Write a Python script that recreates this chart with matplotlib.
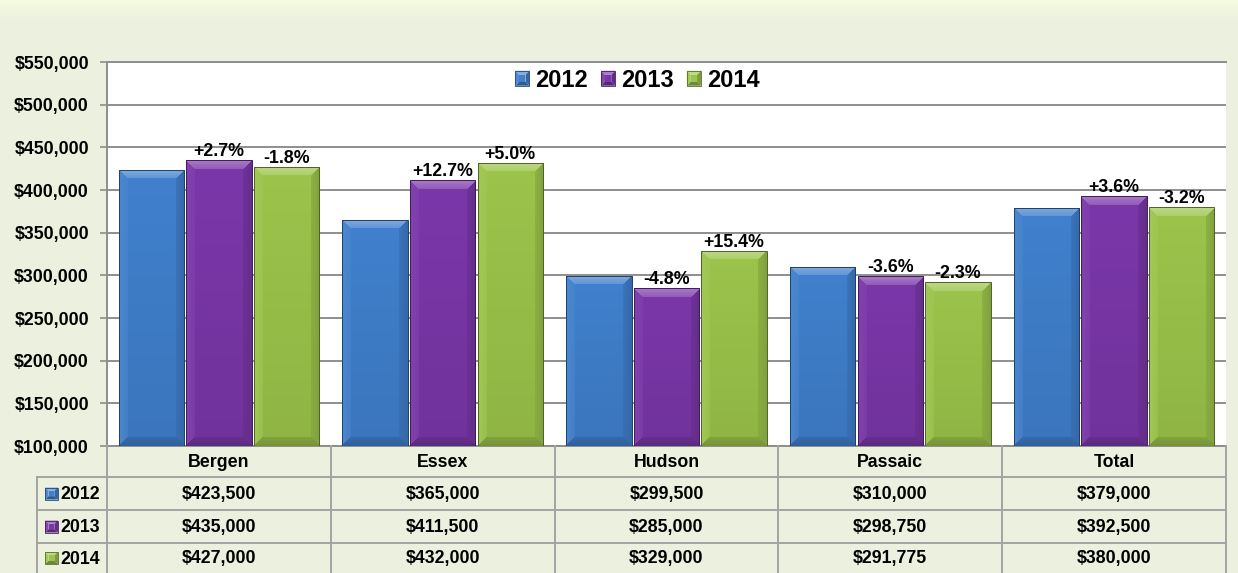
import matplotlib.pyplot as plt
import numpy as np
from matplotlib.colors import to_rgb
from matplotlib.patches import Rectangle, Polygon
from matplotlib.legend_handler import HandlerBase

counties = ["Bergen", "Essex", "Hudson", "Passaic", "Total"]
years = ["2012", "2013", "2014"]
price_2012 = [423500, 365000, 299500, 310000, 379000]
price_2013 = [435000, 411500, 285000, 298750, 392500]
price_2014 = [427000, 432000, 329000, 291775, 380000]
series = [price_2012, price_2013, price_2014]
colors = ["#4080cd", "#7a37a9", "#9cc44b"]

y_min, y_max, y_step = 100000, 550000, 50000

plt.rcParams['font.family'] = ['Liberation Sans', 'DejaVu Sans']
plt.rcParams['font.weight'] = 'bold'

W, H, DPI = 1238, 573, 100
BG = '#ebf1de'
GRID = '#8e8e8e'
TABLE_LINE = '#a3a3a3'
FS = 12.8


def shade(c, f):
    c = np.asarray(to_rgb(c)) if isinstance(c, str) else np.asarray(c)
    if f >= 0:
        return c + (1 - c) * f
    return c * (1 + f)


def bevel_image(color, pw, ph, b):
    # bar face with a light top bevel, dark bottom bevel and shaded sides
    nx, ny = max(int(round(pw)), 2), max(int(round(ph)), 2)
    jj, ii = np.meshgrid(np.arange(nx) + 0.5, np.arange(ny) + 0.5)
    d = np.stack([ii, ny - ii, jj, nx - jj])  # top, bottom, left, right
    side = d.argmin(0)
    dmin = d.min(0)
    base = np.asarray(to_rgb(color))
    t = (ii / ny)[..., None]
    img = base[None, None, :] * (1 - 0.08 * t)
    for k, f in enumerate([0.35, -0.25, 0.06, -0.18]):
        m = (side == k) & (dmin < b)
        # bevel fades toward the face
        w = (1 - dmin[m] / b)[:, None] * 0.5 + 0.5
        img[m] = img[m] * (1 - w) + shade(base, f) * w
    return np.clip(img, 0, 1)


def pyramid(x, y, w, h, color, transform, inset=0.28):
    # small bevelled square used for legend and table keys
    ix, iy = w * inset, h * inset
    o = [(x, y + h), (x + w, y + h), (x + w, y), (x, y)]
    i = [(x + ix, y + h - iy), (x + w - ix, y + h - iy), (x + w - ix, y + iy), (x + ix, y + iy)]
    tints = [0.35, -0.2, -0.3, 0.08]  # top, right, bottom, left
    arts = []
    for k in range(4):
        pts = [o[k], o[(k + 1) % 4], i[(k + 1) % 4], i[k]]
        arts.append(Polygon(pts, closed=True, facecolor=shade(color, tints[k]),
                            edgecolor='none', transform=transform))
    arts.append(Polygon(i, closed=True, facecolor=color, edgecolor='none', transform=transform))
    arts.append(Rectangle((x, y), w, h, fill=False, edgecolor=shade(color, -0.45),
                          lw=0.6, transform=transform))
    return arts


class BevelHandler(HandlerBase):
    def create_artists(self, legend, orig_handle, xdescent, ydescent,
                       width, height, fontsize, trans):
        return pyramid(-xdescent, -ydescent, width, height,
                       orig_handle.get_facecolor()[:3], trans)


fig = plt.figure(figsize=(W / DPI, H / DPI), dpi=DPI)
fig.patch.set_facecolor(BG)

# soft light band at the top of the background
bgax = fig.add_axes([0, 0, 1, 1], zorder=-10)
top_col = np.array(to_rgb('#f6fbe2'))
mid_col = np.array(to_rgb(BG))
rows = np.clip(np.arange(H) / 22.0, 0, 1)[:, None]
grad = top_col * (1 - rows) + mid_col * rows
bgax.imshow(grad[:, None, :], aspect='auto', extent=(0, 1, 0, 1))
bgax.axis('off')

ax = fig.add_axes([107 / W, 1 - 446 / H, (1226 - 107) / W, (446 - 62) / H])
ax.set_facecolor('white')
ax.set_xlim(-0.5, len(counties) - 0.5)
ax.set_ylim(y_min, y_max)
ax.set_yticks(np.arange(y_min, y_max + 1, y_step))
ax.yaxis.set_major_formatter(plt.FuncFormatter(lambda v, p: "${:,.0f}".format(v)))
ax.set_xticks([])
ax.yaxis.grid(True, color=GRID, lw=1.4)
ax.set_axisbelow(True)
ax.tick_params(axis='y', length=5, width=1.2, color=GRID, pad=8, labelsize=FS)
for s in ['left', 'top', 'bottom']:
    ax.spines[s].set_color(GRID)
    ax.spines[s].set_linewidth(1.4)
ax.spines['right'].set_visible(False)

ax_w_px = (1226 - 107)
ax_h_px = (446 - 62)
px_x = ax_w_px / (len(counties))
px_y = ax_h_px / (y_max - y_min)

x = np.arange(len(counties))
width = 0.293
offsets = [-0.302, 0.0, 0.302]

for k, (vals, col) in enumerate(zip(series, colors)):
    bars = ax.bar(x + offsets[k], vals, width, color=col, zorder=2, linewidth=0)
    for rect, v in zip(bars, vals):
        x0 = rect.get_x()
        pw = width * px_x
        ph = (v - y_min) * px_y
        img = bevel_image(col, pw, ph, 9)
        im = ax.imshow(img, extent=(x0, x0 + width, y_min, v), aspect='auto',
                       interpolation='bilinear', zorder=3)
        im.set_clip_path(rect)
        ax.add_patch(Rectangle((x0, y_min), width, v - y_min, fill=False,
                               edgecolor=shade(col, -0.5), lw=0.7, zorder=4))

# year-over-year change above the 2013 and 2014 bars
for k in (1, 2):
    for i in range(len(counties)):
        pct = (series[k][i] / series[k - 1][i] - 1) * 100
        ax.annotate("{:+.1f}%".format(pct), (x[i] + offsets[k], series[k][i]),
                    xytext=(0, 0), textcoords='offset points',
                    ha='center', va='bottom', fontsize=FS, zorder=6)

handles = [Rectangle((0, 0), 1, 1, facecolor=c) for c in colors]
leg = ax.legend(handles, years, loc='center', bbox_to_anchor=(0.474, 0.953),
                ncol=3, frameon=False, fontsize=17, handlelength=0.6,
                handleheight=0.6, handletextpad=0.25, columnspacing=0.55,
                handler_map={Rectangle: BevelHandler()})

# data table under the plot
tax = fig.add_axes([0, 0, 1, 1], zorder=5)
tax.set_xlim(0, W)
tax.set_ylim(H, 0)
tax.axis('off')
tax.patch.set_alpha(0)

edges_px = [ax.transData.transform((e, y_min))[0] for e in np.arange(len(counties) + 1) - 0.5]
centers_px = [ax.transData.transform((c, y_min))[0] for c in x]
top_px = H - ax.transData.transform((0, y_min))[1]
header_h, row_h = 31, 33
label_left = edges_px[0] - 70
row_tops = [top_px + header_h + r * row_h for r in range(len(years) + 1)]

for e in edges_px:
    tax.plot([e, e], [top_px, H + 5], color=TABLE_LINE, lw=1.4, clip_on=False)
tax.plot([label_left, label_left], [row_tops[0], H + 5], color=TABLE_LINE, lw=1.4)
for ry in row_tops[:-1]:
    tax.plot([label_left, edges_px[-1]], [ry, ry], color=TABLE_LINE, lw=1.4)

for c, name in zip(centers_px, counties):
    tax.text(c, top_px + header_h / 2 + 1, name, ha='center', va='center', fontsize=FS)

for r, (yr, vals, col) in enumerate(zip(years, series, colors)):
    cy = row_tops[r] + row_h / 2 - (1.5 if r == 2 else 0)
    for a in pyramid(label_left + 8, cy + 6, 13, -12, col, tax.transData):
        tax.add_artist(a)
    tax.text(label_left + 23, cy + 1, yr, ha='left', va='center', fontsize=FS)
    for c, v in zip(centers_px, vals):
        tax.text(c, cy + 1, "${:,.0f}".format(v), ha='center', va='center', fontsize=FS)

fig.savefig('out.png', dpi=DPI, facecolor=fig.get_facecolor())
